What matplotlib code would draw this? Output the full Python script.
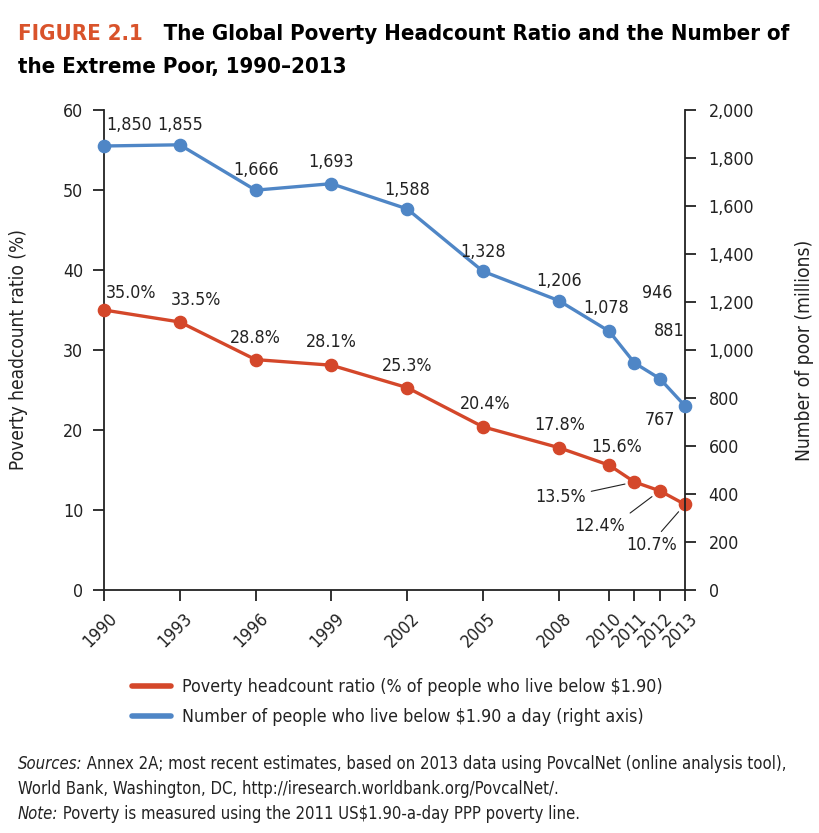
import matplotlib
matplotlib.use("Agg")
import matplotlib.pyplot as plt
import matplotlib.transforms as mtransforms
import matplotlib.font_manager as fm
from matplotlib.lines import Line2D

# look for a narrow / condensed sans face, the original uses a condensed type
narrow = None
for f in fm.fontManager.ttflist:
    nm = (f.name + ' ' + f.fname).lower()
    if ('condensed' in nm or 'narrow' in nm or f.stretch in ('condensed', 'semi-condensed')) \
            and 'mono' not in nm and 'serif' not in f.name.lower():
        narrow = f
        break
if narrow is not None:
    plt.rcParams['font.family'] = [narrow.name, 'DejaVu Sans']
    plt.rcParams['font.stretch'] = narrow.stretch
else:
    plt.rcParams['font.family'] = ['Liberation Sans', 'DejaVu Sans']

# data
years = [1990, 1993, 1996, 1999, 2002, 2005, 2008, 2010, 2011, 2012, 2013]
ratio = [35.0, 33.5, 28.8, 28.1, 25.3, 20.4, 17.8, 15.6, 13.5, 12.4, 10.7]
poor = [1850, 1855, 1666, 1693, 1588, 1328, 1206, 1078, 946, 881, 767]
ratio_labels = [f"{v:.1f}%" for v in ratio]
poor_labels = [f"{v:,}" for v in poor]

legend_labels = ["Poverty headcount ratio (% of people who live below $1.90)",
                 "Number of people who live below $1.90 a day (right axis)"]
title1 = ("FIGURE 2.1", "   The Global Poverty Headcount Ratio and the Number of")
title2 = "the Extreme Poor, 1990–2013"
foot1 = ("Sources:", " Annex 2A; most recent estimates, based on 2013 data using PovcalNet (online analysis tool),")
foot2 = "World Bank, Washington, DC, http://iresearch.worldbank.org/PovcalNet/."
foot3 = ("Note:", " Poverty is measured using the 2011 US$1.90-a-day PPP poverty line.")

red = '#D4472A'
blue = '#4F86C6'
ink = '#222222'

# label offsets in pixels (dx, dy) and alignment
poor_off = [(2, 21, 'left'), (0, 20, 'center'), (0, 20, 'center'), (0, 22, 'center'),
            (0, 19, 'center'), (0, 19, 'center'), (0, 20, 'center'), (-3, 23, 'center'),
            (23, 70, 'center'), (10, 48, 'center'), (-25, -14, 'center')]
ratio_off = [(2, 17, 'left'), (16, 22, 'center'), (0, 22, 'center'), (0, 23, 'center'),
             (0, 22, 'center'), (2, 23, 'center'), (1, 23, 'center'), (7, 18, 'center'),
             (-74, -15, 'center'), (-60, -35, 'center'), (-33, -41, 'center')]
leader = [None] * 8 + [(1.0, 0.75), (1.0, 1.0), (0.6, 1.0)]

fig = plt.figure(figsize=(8.2, 8.33), dpi=100)
renderer = fig.canvas.get_renderer()


def width_px(s, size, **kw):
    t = fig.text(0, 0, s, fontsize=size, **kw)
    w = t.get_window_extent(renderer).width
    t.remove()
    return w


def fit(s, target, size, **kw):
    return size * target / width_px(s, size, **kw)


body = min(15.5, fit(legend_labels[0], 480, 15))
title_fs = fit(title1[0] + title1[1], 772, 20, fontweight='bold')
foot_fs = min(14, fit(foot1[0] + foot1[1], 767, 13))

ax = fig.add_axes([104 / 820, 1 - 590 / 833, 581 / 820, 480 / 833])
ax2 = ax.twinx()

ax.plot(years, ratio, color=red, lw=2.4, marker='o', ms=8.8, zorder=3, clip_on=False)
ax2.plot(years, poor, color=blue, lw=2.4, marker='o', ms=8.8, zorder=3, clip_on=False)

ax.set_xlim(1990, 2013)
ax.set_ylim(0, 60)
ax2.set_ylim(0, 2000)
ax.set_yticks(range(0, 61, 10))
ax2.set_yticks(range(0, 2001, 200))
ax2.set_yticklabels([f"{v:,}" for v in range(0, 2001, 200)])
ax.set_xticks(years)
ax.set_xticklabels([])

# rotated year labels, anchored right-centre just below each tick
shift = mtransforms.ScaledTranslation(0.10, -0.26, fig.dpi_scale_trans)
for y in years:
    ax.text(y, 0, str(y), transform=ax.get_xaxis_transform() + shift, rotation=45,
            ha='right', va='center', rotation_mode='anchor', fontsize=body, color=ink)

for a in (ax, ax2):
    for s in a.spines.values():
        s.set_color(ink)
        s.set_linewidth(1.3)
    a.spines['top'].set_visible(False)
ax.spines['right'].set_visible(False)
ax2.spines['left'].set_visible(False)
ax2.spines['bottom'].set_visible(False)
ax.tick_params(axis='both', direction='out', length=8, width=1.3, color=ink,
               labelsize=body, labelcolor=ink)
ax.tick_params(axis='y', pad=7)
ax2.tick_params(axis='y', direction='out', length=8, width=1.3, color=ink,
                labelsize=body, labelcolor=ink, pad=9)

ax.set_ylabel("Poverty headcount ratio (%)", fontsize=body * 1.07, color=ink)
ax.yaxis.set_label_coords(-0.131, 0.5)
ax2.set_ylabel("Number of poor (millions)", fontsize=body * 1.08, color=ink, rotation=90)
ax2.yaxis.set_label_coords(1.189, 0.5)

for x, y, t, (dx, dy, ha) in zip(years, poor, poor_labels, poor_off):
    ax2.annotate(t, (x, y), xytext=(dx, dy), textcoords='offset pixels',
                 ha=ha, va='center', fontsize=body, color=ink, zorder=5)
for x, y, t, (dx, dy, ha), lp in zip(years, ratio, ratio_labels, ratio_off, leader):
    kw = {}
    if lp is not None:
        kw['arrowprops'] = dict(arrowstyle='-', color=ink, lw=0.8, relpos=lp,
                                shrinkA=2, shrinkB=7)
    ax.annotate(t, (x, y), xytext=(dx, dy), textcoords='offset pixels',
                ha=ha, va='center', fontsize=body, color=ink, zorder=5, **kw)

# legend
handles = [Line2D([], [], color=red, lw=4, solid_capstyle='round'),
           Line2D([], [], color=blue, lw=4, solid_capstyle='round')]
fig.legend(handles, legend_labels,
           loc='upper left', bbox_to_anchor=(132 / 820, 1 - 678 / 833), frameon=False,
           fontsize=body, handlelength=2.2, handletextpad=0.6, labelspacing=0.68,
           borderpad=0, borderaxespad=0, labelcolor=ink)


def put_runs(x, y, runs, **kw):
    # place consecutive text pieces on one baseline
    for txt, extra in runs:
        t = fig.text(x, y, txt, va='baseline', ha='left', **kw, **extra)
        bb = t.get_window_extent(renderer)
        x += bb.width / fig.bbox.width


# title
put_runs(18 / 820, 1 - 40 / 833,
         [(title1[0], dict(color='#D9532B')), (title1[1], dict(color='black'))],
         fontsize=title_fs, fontweight='bold')
fig.text(18 / 820, 1 - 73 / 833, title2, fontsize=title_fs,
         fontweight='bold', va='baseline', ha='left')

# footer
put_runs(18 / 820, 1 - 769 / 833,
         [(foot1[0], dict(style='italic')), (foot1[1], {})], fontsize=foot_fs, color=ink)
fig.text(18 / 820, 1 - 794 / 833, foot2, fontsize=foot_fs, color=ink, va='baseline')
put_runs(18 / 820, 1 - 819 / 833,
         [(foot3[0], dict(style='italic')), (foot3[1], {})], fontsize=foot_fs, color=ink)

fig.savefig("out.png", dpi=100, facecolor='white')
